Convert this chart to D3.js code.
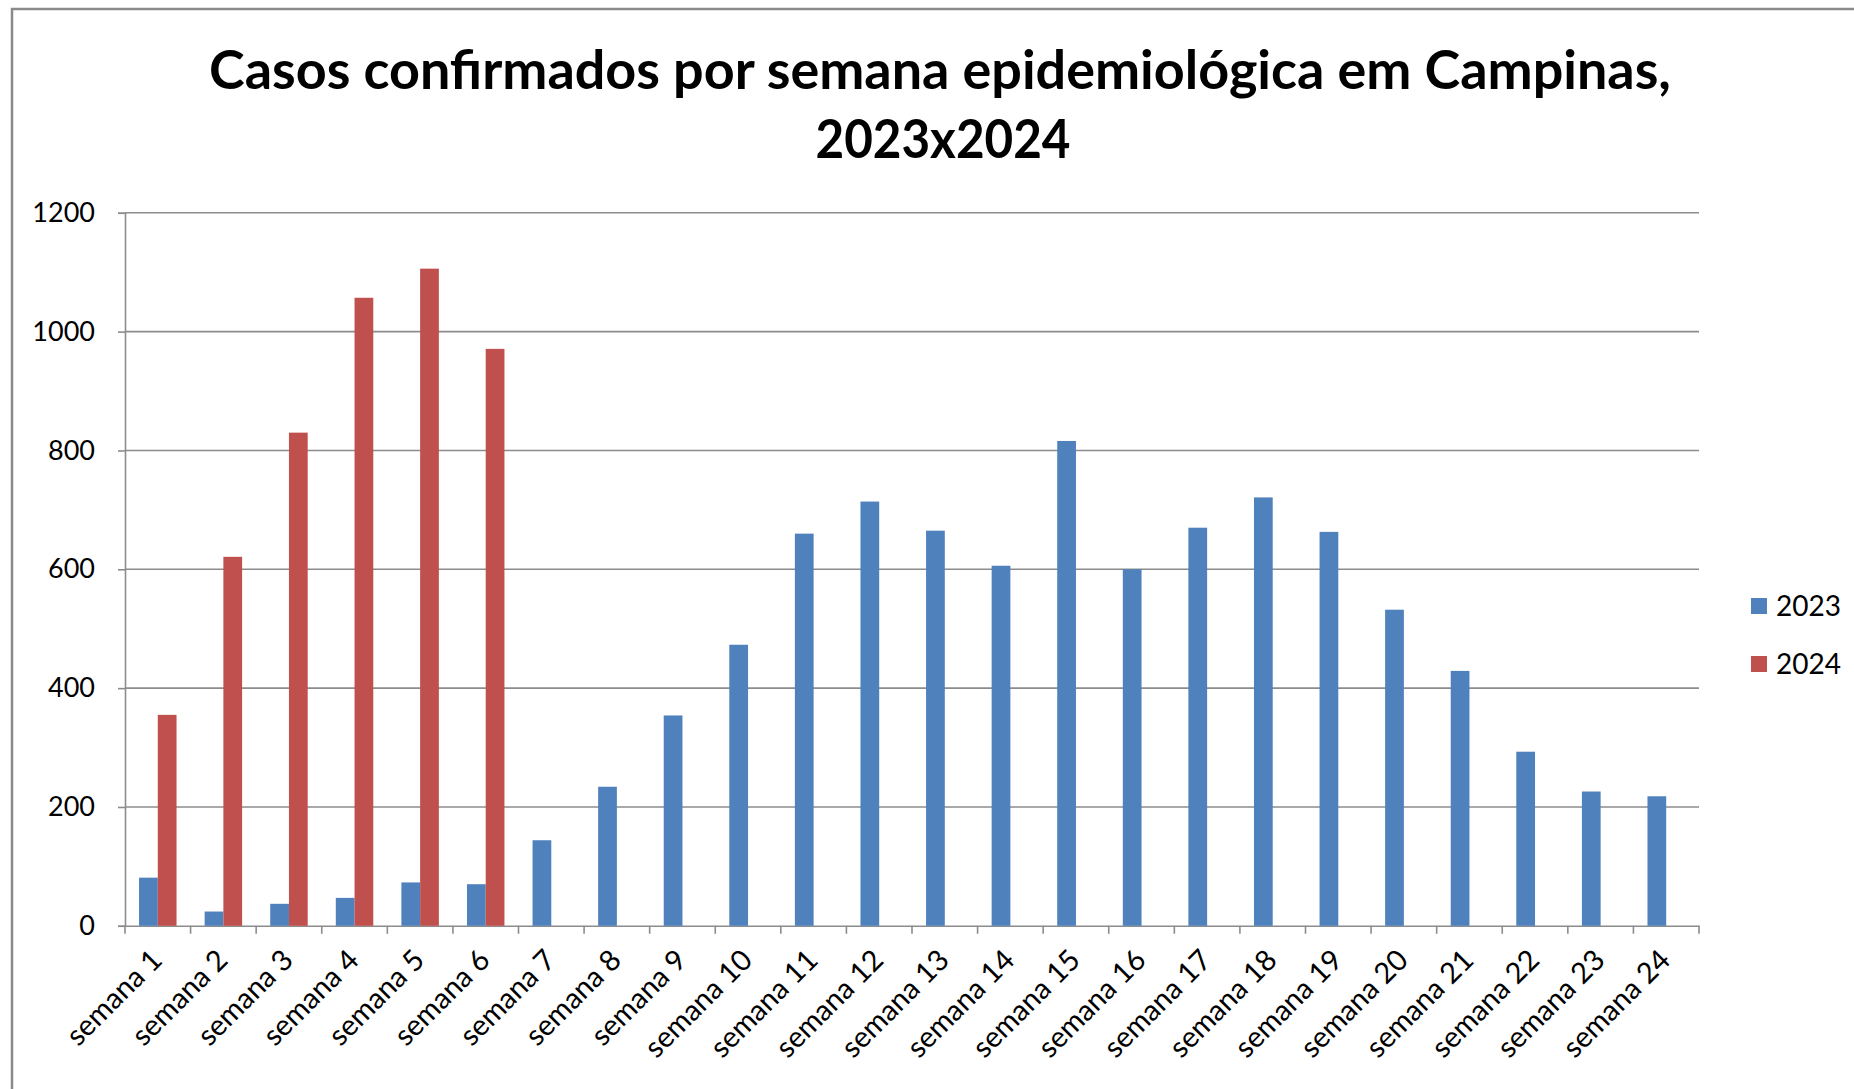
<!DOCTYPE html>
<html><head><meta charset="utf-8">
<script src="https://cdn.jsdelivr.net/npm/d3@7"></script>
<style>html,body{margin:0;padding:0;background:#fff;overflow:hidden}</style>
</head><body>
<svg id="chart" width="1854" height="1089"></svg>
<script>
const categories = ["semana 1","semana 2","semana 3","semana 4","semana 5","semana 6","semana 7","semana 8","semana 9","semana 10","semana 11","semana 12","semana 13","semana 14","semana 15","semana 16","semana 17","semana 18","semana 19","semana 20","semana 21","semana 22","semana 23","semana 24"];
const series2023 = [81,24,37,47,73,70,144,234,354,473,660,714,665,606,816,600,670,721,663,532,429,293,226,218];
const series2024 = [355,621,830,1057,1106,971];
const seriesNames = ["2023","2024"];
const seriesColors = ["#4F81BD","#C0504D"];
const yTicks = [0,200,400,600,800,1000,1200];
const titleLines = ["Casos confirmados por semana epidemiológica em Campinas,","2023x2024"];

const svg = d3.select("#chart");
const FONT = "Lato, 'Open Sans', sans-serif";

// frame
svg.append("rect").attr("x",12).attr("y",9).attr("width",1900).attr("height",1200)
  .attr("fill","#fff").attr("stroke","#8a8a8a").attr("stroke-width",2.5);

const m = {left:125, right:1699, top:212.8, bottom:925.8};
const x = d3.scaleBand().domain(categories).range([m.left,m.right]).paddingInner(0).paddingOuter(0);
const y = d3.scaleLinear().domain([0,1200]).range([m.bottom,m.top]);
const barW = x.bandwidth()/3.5;
const groupOff = (x.bandwidth()-2*barW)/2;

// gridlines
svg.append("g").selectAll("line").data(yTicks.filter(d=>d>0)).join("line")
  .attr("x1",m.left).attr("x2",m.right).attr("y1",d=>y(d)).attr("y2",d=>y(d))
  .attr("stroke","#8c8c8c").attr("stroke-width",1.6);

// y axis
const yAxis = svg.append("g").attr("transform",`translate(${m.left},0)`)
  .call(d3.axisLeft(y).tickValues(yTicks).tickSize(7).tickPadding(23).tickFormat(d3.format("d")));
yAxis.select(".domain").attr("stroke","#8c8c8c").attr("stroke-width",1.6);
yAxis.selectAll(".tick line").attr("stroke","#8c8c8c").attr("stroke-width",1.6);
yAxis.selectAll(".tick text").attr("font-family",FONT).attr("font-size",27).attr("fill","#000");

// x axis
const xAxis = svg.append("g").attr("transform",`translate(0,${m.bottom})`)
  .call(d3.axisBottom(x).tickSize(0).tickFormat(""));
xAxis.select(".domain").attr("stroke","#8c8c8c").attr("stroke-width",1.6);
const bounds = categories.map((c)=>x(c)).concat([m.right]);
svg.append("g").selectAll("line").data(bounds).join("line")
  .attr("x1",d=>d).attr("x2",d=>d).attr("y1",m.bottom).attr("y2",m.bottom+8)
  .attr("stroke","#8c8c8c").attr("stroke-width",1.6);

svg.append("g").selectAll("text").data(categories).join("text")
  .attr("transform",d=>`translate(${x(d)+x.bandwidth()/2+6},${m.bottom+36}) rotate(-45)`)
  .attr("text-anchor","end").attr("font-family",FONT).attr("font-size",29).attr("fill","#000")
  .text(d=>d);

// bars
const allSeries = [series2023, series2024];
allSeries.forEach((vals,si)=>{
  svg.append("g").selectAll("rect").data(vals).join("rect")
    .attr("x",(d,i)=>x(categories[i])+groupOff+si*barW)
    .attr("y",d=>y(d))
    .attr("width",barW)
    .attr("height",d=>y(0)-y(d))
    .attr("fill",seriesColors[si]);
});

// title
const tl = svg.append("g");
tl.append("text").attr("x",940).attr("y",89).attr("text-anchor","middle")
  .attr("font-family",FONT).attr("font-weight","bold").attr("font-size",54)
  .attr("textLength",1462).attr("lengthAdjust","spacingAndGlyphs").text(titleLines[0]);
tl.append("text").attr("x",943).attr("y",158).attr("text-anchor","middle")
  .attr("font-family",FONT).attr("font-weight","bold").attr("font-size",54)
  .attr("textLength",255).attr("lengthAdjust","spacingAndGlyphs").text(titleLines[1]);

// legend
const lg = svg.append("g");
seriesNames.forEach((n,i)=>{
  const yy = 606 + i*58;
  lg.append("rect").attr("x",1751).attr("y",yy-8).attr("width",16).attr("height",16).attr("fill",seriesColors[i]);
  lg.append("text").attr("x",1776).attr("y",yy+10).attr("font-family",FONT).attr("font-size",28).attr("fill","#000").text(n);
});
</script>
</body></html>
